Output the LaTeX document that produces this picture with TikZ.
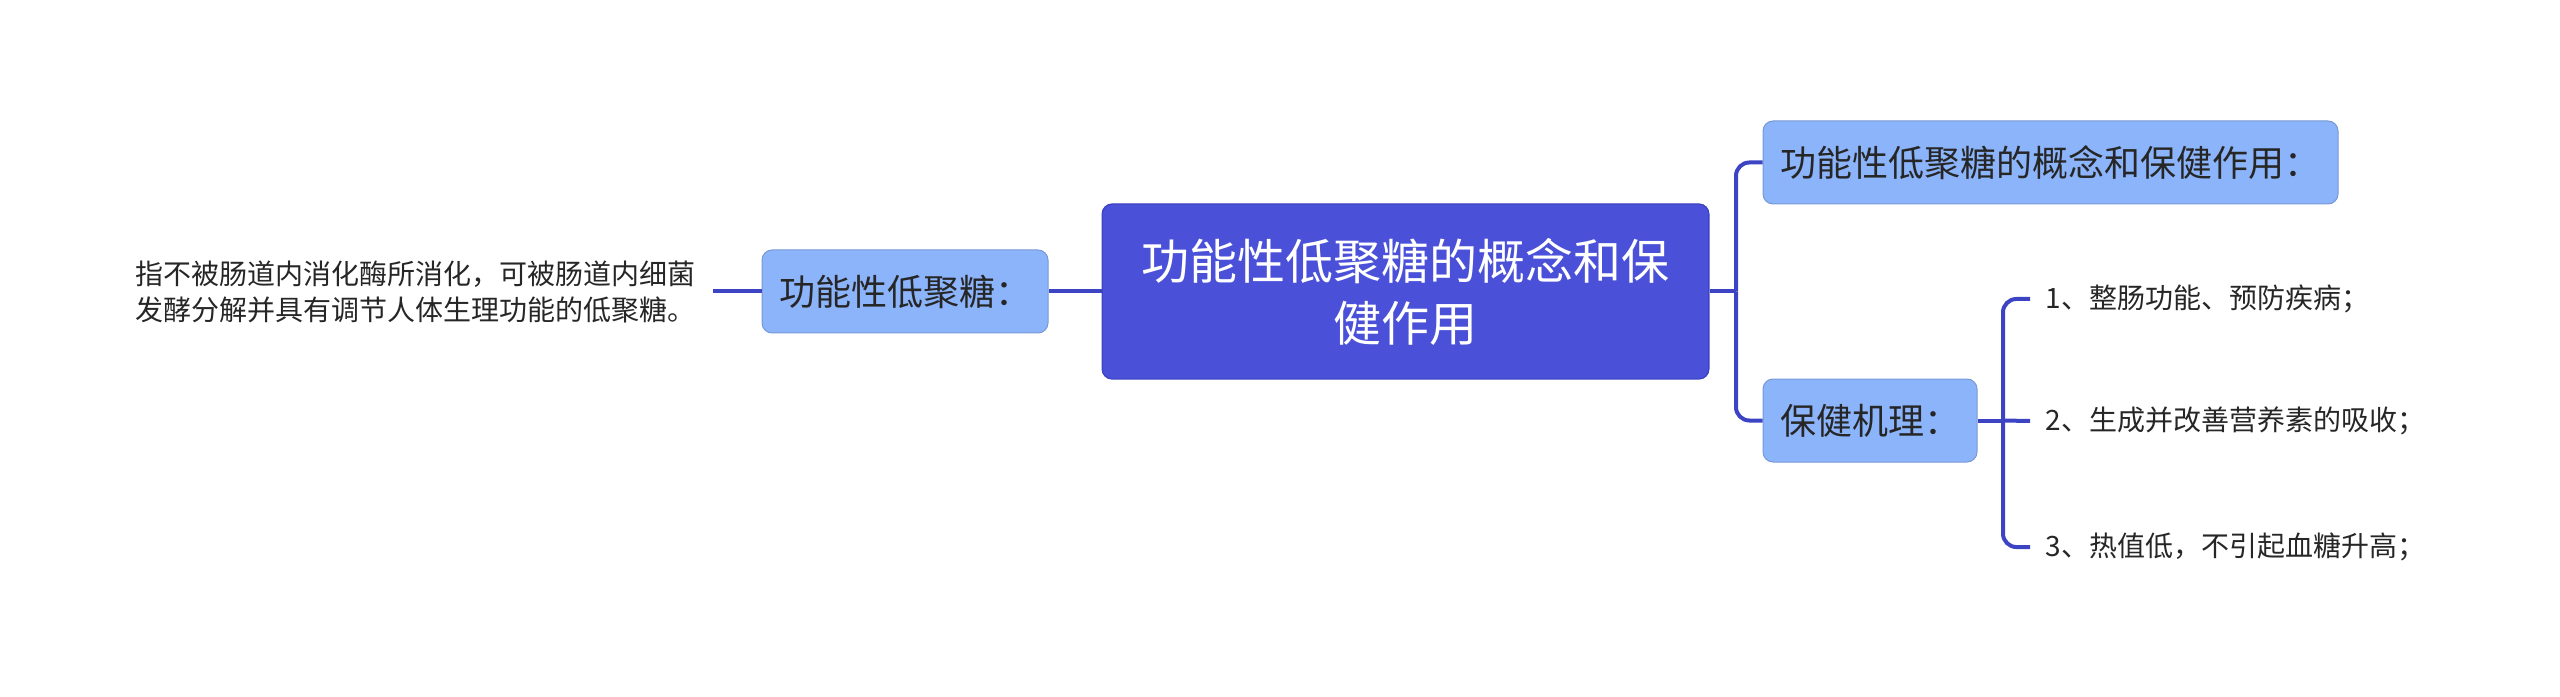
\documentclass[tikz,border=0pt]{standalone}
\usepackage{fontspec}
\setmainfont{Noto Sans CJK SC}
\definecolor{rootblue}{HTML}{4A51D8}
\definecolor{subblue}{HTML}{8CB4FA}
\definecolor{linkblue}{HTML}{3D44C4}
\begin{document}
\begin{tikzpicture}[x=0.3pt,y=-0.3pt,
	root/.style={draw=linkblue,line width=0.4pt,fill=rootblue,rounded corners=3pt,text=white,align=center,
		minimum width=182pt,minimum height=52.5pt,inner sep=0pt,font=\fontsize{14.4}{18.6}\selectfont},
	sub/.style={draw=subblue!85!black,line width=0.3pt,fill=subblue,rounded corners=3pt,text=black!85,
		minimum height=24.9pt,inner sep=0pt,font=\fontsize{10.8}{12}\selectfont},
	leaf/.style={text=black!85,inner sep=4.5pt,align=left,font=\fontsize{8.4}{10.8}\selectfont},
	link/.style={draw=linkblue,line width=1.2pt,rounded corners=4pt}]
	\useasboundingbox (0,0) rectangle (2560,697);
	\node[root] (hub) at (1405.5,291.5) {功能性低聚糖的概念和保\\健作用};
	%left
	\node[sub,minimum width=85.8pt] (defn) at (905,291.5) {功能性低聚糖：};
	\node[leaf,anchor=west] (defntext) at (120,292) {指不被肠道内消化酶所消化，可被肠道内细菌\\发酵分解并具有调节人体生理功能的低聚糖。};
	\coordinate (dend) at (713,291.5);
	\draw[link] (hub.west) -- (defn.east);
	\draw[link] (defn.west) -- (dend);
	%right
	\node[sub,minimum width=172.5pt] (concept) at (2050.5,162.5) {功能性低聚糖的概念和保健作用：};
	\node[sub,minimum width=64.2pt] (mech) at (1870,420.5) {保健机理：};
	\coordinate (rfork) at (1736,291.5);
	\draw[link] (hub.east) -- (rfork);
	\draw[link] (rfork) |- (concept.west);
	\draw[link] (rfork) |- (mech.west);
	%items
	\node[leaf,anchor=west] (item1) at (2030,299) {1、整肠功能、预防疾病；};
	\node[leaf,anchor=west] (item2) at (2030,421) {2、生成并改善营养素的吸收；};
	\node[leaf,anchor=west] (item3) at (2030,547) {3、热值低，不引起血糖升高；};
	\coordinate (ifork) at (2003,420.5);
	\draw[link] (mech.east) -- (ifork);
	\draw[link] (ifork) |- (item1.west);
	\draw[link] (ifork) -- (item2.west);
	\draw[link] (ifork) |- (item3.west);
\end{tikzpicture}
\end{document}
